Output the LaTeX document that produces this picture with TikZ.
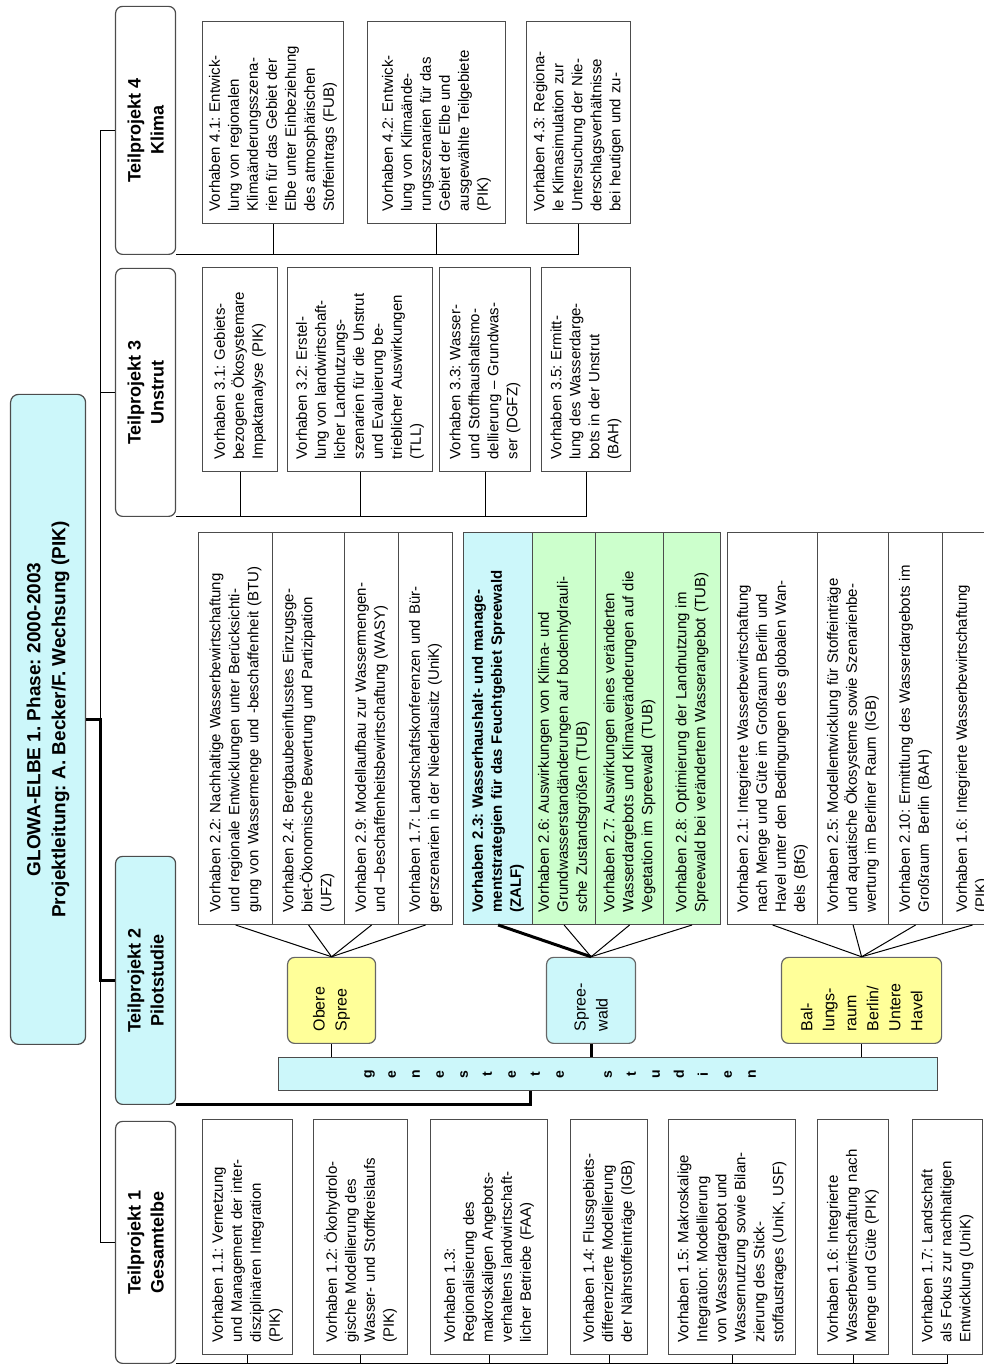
\documentclass[tikz,border=0pt]{standalone}
\usepackage{fontspec}
\setmainfont{Liberation Sans}
\usetikzlibrary{calc}
\frenchspacing

\definecolor{paleblue}{RGB}{204,247,250}
\definecolor{paleyellow}{RGB}{255,255,153}
\definecolor{palegreen}{RGB}{204,255,204}

\tikzset{
  link/.style={draw=black, line width=1pt},
  thick link/.style={draw=black, line width=3pt},
  headbox/.style={draw=black!70, line width=1.2pt, fill=paleblue, rounded corners=8pt,
    anchor=north west, minimum width=650pt, minimum height=75pt, align=center,
    font=\bfseries\fontsize{19}{25}\selectfont},
  tpbox/.style={draw=black!70, line width=1.2pt, rounded corners=7pt, anchor=north west,
    minimum width=248pt, minimum height=60pt, align=center,
    font=\bfseries\fontsize{18}{23}\selectfont},
  vhbox/.style n args={2}{draw=black!70, line width=1.2pt, anchor=north west,
    minimum width=#1pt, minimum height=#2pt, text width=#1pt-24pt, inner sep=0pt,
    align=left, font=\fontsize{15}{19}\selectfont},
  region/.style={draw=black!60, line width=1.2pt, rounded corners=7pt, anchor=north west,
    minimum width=86pt, text width=62pt, inner sep=0pt, align=left,
    font=\fontsize{16}{22}\selectfont},
}

\begin{document}
\begin{tikzpicture}[x=1pt, y=1pt, rotate=90, transform shape]
  \useasboundingbox (0,0) rectangle (1367,984);
  \clip (0,0) rectangle (1367,984);

  \node [headbox] (glowa) at (322,974) {GLOWA-ELBE 1. Phase: 2000-2003\\Projektleitung: A. Becker/F. Wechsung (PIK)};
  \coordinate (bus) at (0,883);

  \node [tpbox] (tp4) at (1112,869) {Teilprojekt 4\\Klima};
  \node [tpbox] (tp3) at (850,869) {Teilprojekt 3\\Unstrut};
  \node [tpbox, fill=paleblue] (tp2) at (262,869) {Teilprojekt 2\\Pilotstudie};
  \node [tpbox, minimum width=242pt] (tp1) at (3,869) {Teilprojekt 1\\Gesamtelbe};

  \node [vhbox={202}{141}] (v41) at (1143,782) {Vorhaben 4.1: Entwick-\\lung von regionalen\\Klimaänderungsszena-\\rien für das Gebiet der\\Elbe unter Einbeziehung\\des atmosphärischen\\Stoffeintrags (FUB)};
  \node [vhbox={202}{138}] (v42) at (1143,617) {Vorhaben 4.2: Entwick-\\lung von Klimaände-\\rungsszenarien für das\\Gebiet der Elbe und\\ausgewählte Teilgebiete\\(PIK)};
  \node [vhbox={202}{104}] (v43) at (1143,458) {Vorhaben 4.3: Regiona-\\le Klimasimulation zur\\Untersuchung der Nie-\\derschlagsverhältnisse\\bei heutigen und zu-};

  \node [vhbox={204}{75}] (v31) at (895,782) {Vorhaben 3.1: Gebiets-\\bezogene Ökosystemare\\Impaktanalyse (PIK)};
  \node [vhbox={204}{145}] (v32) at (895,697) {Vorhaben 3.2: Erstel-\\lung von landwirtschaft-\\licher Landnutzungs-\\szenarien für die Unstrut\\und Evaluierung be-\\trieblicher Auswirkungen\\(TLL)};
  \node [vhbox={204}{91}] (v33) at (895,545) {Vorhaben 3.3: Wasser-\\und Stoffhaushaltsmo-\\dellierung – Grundwas-\\ser (DGFZ)};
  \node [vhbox={204}{89}] (v35) at (895,443) {Vorhaben 3.5: Ermitt-\\lung des Wasserdarge-\\bots in der Unstrut\\(BAH)};

  \node [vhbox={235}{90}] (v11) at (12,782) {Vorhaben 1.1: Vernetzung\\und Management der inter-\\disziplinären Integration\\(PIK)};
  \node [vhbox={235}{94}] (v12) at (12,671) {Vorhaben 1.2: Ökohydrolo-\\gische Modellierung des\\Wasser- und Stoffkreislaufs\\(PIK)};
  \node [vhbox={235}{117}] (v13) at (12,554) {Vorhaben 1.3:\\Regionalisierung des\\makroskaligen Angebots-\\verhaltens landwirtschaft-\\licher Betriebe (FAA)};
  \node [vhbox={235}{77}] (v14) at (12,414) {Vorhaben 1.4: Flussgebiets-\\differenzierte Modellierung\\der Nährstoffeinträge (IGB)};
  \node [vhbox={235}{127}] (v15) at (12,316) {Vorhaben 1.5: Makroskalige\\Integration: Modellierung\\von Wasserdargebot und\\Wassernutzung sowie Bilan-\\zierung des Stick-\\stoffaustrages (UniK, USF)};
  \node [vhbox={235}{71}] (v16) at (12,167) {Vorhaben 1.6: Integrierte\\Wasserbewirtschaftung nach\\Menge und Güte (PIK)};
  \node [vhbox={235}{70}] (v17) at (12,72) {Vorhaben 1.7: Landschaft\\als Fokus zur nachhaltigen\\Entwicklung (UniK)};

  \node [draw=black!70, line width=1.2pt, fill=paleblue, anchor=north west, minimum width=33pt, minimum height=659pt] (bar) at (276,706) {};
  \node [font=\bfseries\fontsize{14}{24}\selectfont, align=center] (barlabel) at (292.5,424) {g\\e\\n\\e\\s\\t\\e\\t\\e\\[24pt]s\\t\\u\\d\\i\\e\\n};

  \node [region, fill=paleyellow, minimum height=88pt] (os) at (323,697) {Obere\\Spree};
  \node [region, fill=paleblue, minimum height=89pt] (sw) at (323,438) {Spree-\\wald};
  \node [region, fill=paleyellow, minimum height=160pt] (bb) at (323,203) {Bal-\\lungs-\\raum\\Berlin/\\Untere\\Havel};

  \node [vhbox={392}{74}, fill=white] (g22) at (442,786) {Vorhaben 2.2: Nachhaltige Wasserbewirtschaftung\\und regionale Entwicklungen unter Berücksichti-\\gung von Wassermenge und -beschaffenheit (BTU)};
  \node [vhbox={392}{72}] (g24) at (442,712) {Vorhaben 2.4: Bergbaubeeinflusstes Einzugsge-\\biet-Ökonomische Bewertung und Partizipation\\(UFZ)};
  \node [vhbox={392}{54}] (g29) at (442,640) {Vorhaben 2.9: Modellaufbau zur Wassermengen-\\und –beschaffenheitsbewirtschaftung (WASY)};
  \node [vhbox={392}{54}] (g17) at (442,586) {Vorhaben 1.7: Landschaftskonferenzen und Bür-\\gerszenarien in der Niederlausitz (UniK)};

  \node [vhbox={392}{69}, fill=paleblue, font=\bfseries\fontsize{15}{19}\selectfont] (g23) at (442,521) {Vorhaben 2.3: Wasserhaushalt- und manage-\\mentstrategien für das Feuchtgebiet Spreewald\\(ZALF)};
  \node [vhbox={392}{63}, fill=palegreen] (g26) at (442,452) {Vorhaben 2.6: Auswirkungen von Klima- und\\Grundwasserstandänderungen auf bodenhydrauli-\\sche Zustandsgrößen (TUB)};
  \node [vhbox={392}{68}, fill=palegreen] (g27) at (442,389) {Vorhaben 2.7: Auswirkungen eines veränderten\\Wasserdargebots und Klimaveränderungen auf die\\Vegetation im Spreewald (TUB)};
  \node [vhbox={392}{57}, fill=palegreen] (g28) at (442,321) {Vorhaben 2.8: Optimierung der Landnutzung im\\Spreewald bei verändertem Wasserangebot (TUB)};

  \node [vhbox={392}{90}] (g21) at (442,257) {Vorhaben 2.1: Integrierte Wasserbewirtschaftung\\nach Menge und Güte im Großraum Berlin und\\Havel unter den Bedingungen des globalen Wan-\\dels (BfG)};
  \node [vhbox={392}{71}] (g25) at (442,167) {Vorhaben 2.5: Modellentwicklung für Stoffeinträge\\und aquatische Ökosysteme sowie Szenarienbe-\\wertung im Berliner Raum (IGB)};
  \node [vhbox={392}{54}] (g210) at (442,96) {Vorhaben 2.10: Ermittlung des Wasserdargebots im\\Großraum\ \ Berlin (BAH)};
  \node [vhbox={392}{60}] (g16) at (442,42) {Vorhaben 1.6: Integrierte Wasserbewirtschaftung\\(PIK)};

  \draw [link] (tp4.north) -- (tp4.north |- bus) -- (tp1.north |- bus) -- (tp1.north);
  \draw [link] (tp3.north) -- (tp3.north |- bus);
  \draw [thick link] (glowa.south) -- (glowa.south |- bus) -| (tp2.north);

  \foreach \v in {v41,v42,v43}
    \draw [link] (tp4.south west) |- (\v.west);
  \foreach \v in {v31,v32,v33,v35}
    \draw [link] (tp3.south west) |- (\v.west);
  \foreach \v in {v11,v12,v13,v14,v15,v16,v17}
    \draw [link] (tp1.south west) |- (\v.west);

  \coordinate (barin) at ($(bar.west)+(0,78)$);
  \draw [thick link] (tp2.south west) |- (barin);

  \draw [link] (os.west) -- (os.west -| bar.east);
  \draw [thick link] (sw.west) -- (sw.west -| bar.east);
  \draw [link] (bb.west) -- (bb.west -| bar.east);

  \foreach \g in {g22,g24,g29,g17}
    \draw [link] (os.east) -- (\g.west);
  \draw [thick link] (sw.east) -- (g23.west);
  \foreach \g in {g26,g27,g28}
    \draw [link] (sw.east) -- (\g.west);
  \foreach \g in {g21,g25,g210,g16}
    \draw [link] (bb.east) -- (\g.west);
\end{tikzpicture}
\end{document}
